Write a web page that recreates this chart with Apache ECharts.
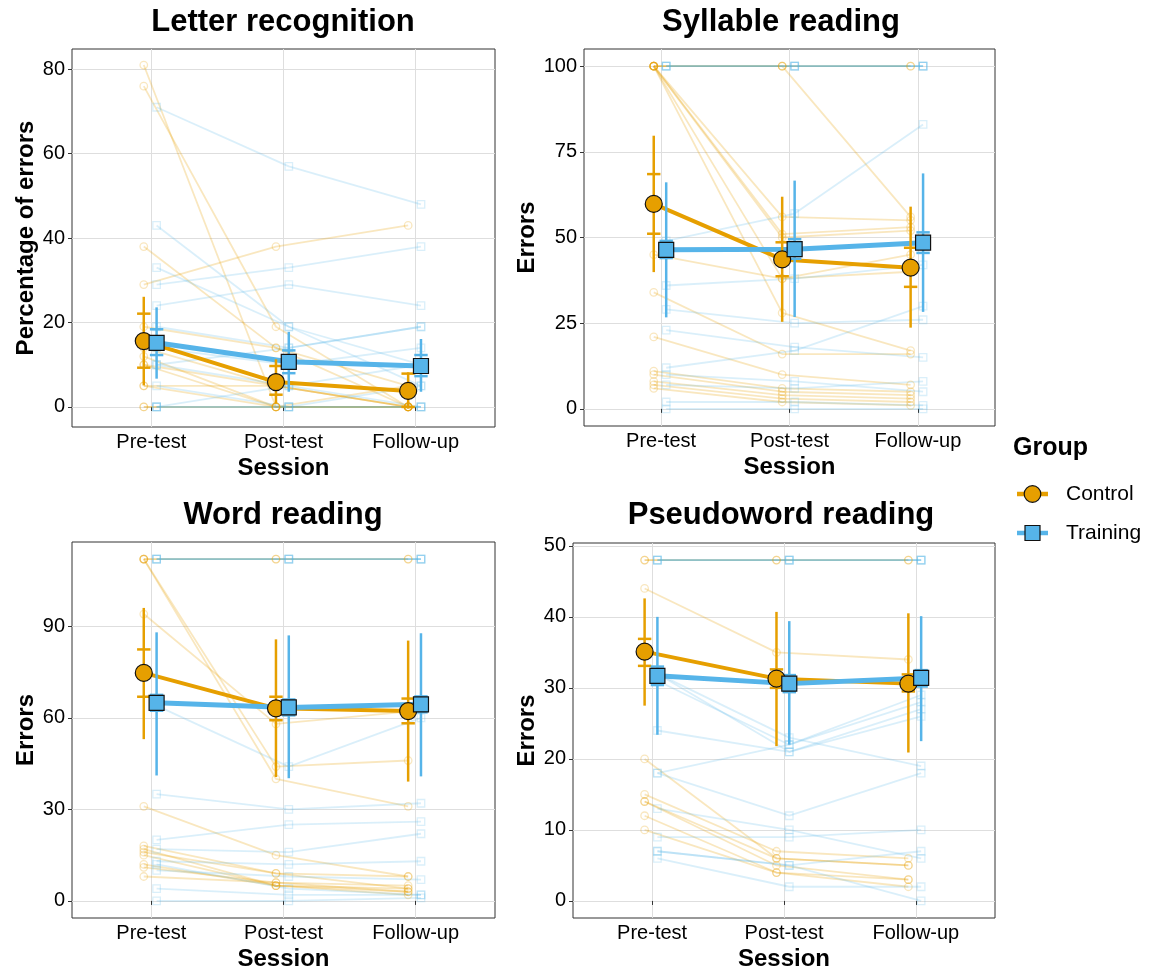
<!DOCTYPE html>
<html><head><meta charset="utf-8">
<script src="https://cdn.jsdelivr.net/npm/echarts@6/dist/echarts.min.js"></script>
<style>html,body{margin:0;padding:0;background:#fff}#c{width:1165px;height:975px}</style>
</head><body><div id="c"></div>
<script>
// ---------- DATA ----------
const sessions = ['Pre-test', 'Post-test', 'Follow-up'];
const panelTitles = ['Letter recognition', 'Syllable reading', 'Word reading', 'Pseudoword reading'];
const yAxisNames = ['Percentage of errors', 'Errors', 'Errors', 'Errors'];
const groups = ['Control', 'Training'];

const letterTicks = [0, 20, 40, 60, 80];
const syllableTicks = [0, 25, 50, 75, 100];
const wordTicks = [0, 30, 60, 90];
const pseudoTicks = [0, 10, 20, 30, 40, 50];

// individual participants: [pre, post, follow-up]
const letterControl = [[81,0,0],[76,19,0],[38,14,5],[29,38,43],[19,14,0],[14,5,0],[12,0,5],[10,5,0],[5,0,0],[0,0,0],[0,0,0],[10,0,0],[5,5,0]];
const letterTraining = [[71,57,48],[43,19,10],[33,19,5],[29,33,38],[24,29,24],[19,14,19],[10,14,19],[10,5,0],[5,0,5],[0,0,0],[0,0,0],[0,0,0],[0,5,10],[14,10,14]];
const syllableControl = [[100,100,100],[100,100,100],[100,100,56],[100,56,55],[100,51,53],[100,50,52],[100,38,45],[100,28,17],[45,38,40],[34,16,16],[21,10,7],[11,6,5],[10,5,4],[8,4,3],[7,3,2],[6,2,1]];
const syllableTraining = [[100,100,100],[100,100,100],[100,100,100],[100,100,100],[49,57,83],[46,47,48],[36,38,42],[29,25,26],[23,18,15],[12,17,30],[10,8,5],[7,6,8],[2,2,1],[0,0,0]];
const wordControl = [[112,112,112],[112,112,112],[112,40,31],[112,44,46],[94,58,62],[31,15,8],[18,9,4],[17,5,3],[16,9,8],[15,5,4],[12,5,2],[11,6,3],[8,6,5]];
const wordTraining = [[112,112,112],[112,112,112],[112,112,112],[112,112,112],[64,44,60],[35,30,32],[20,25,26],[17,16,22],[13,12,13],[10,8,7],[12,4,2],[4,2,2],[0,0,1]];
const pseudoControl = [[48,48,48],[48,48,48],[44,35,34],[20,6,5],[15,7,6],[14,6,5],[14,5,3],[12,4,2],[10,4,3]];
const pseudoTraining = [[48,48,48],[48,48,48],[48,48,48],[48,48,48],[32,23,19],[24,21,26],[18,22,29],[18,12,18],[31,22,28],[32,21,27],[13,10,6],[9,9,10],[7,5,7],[7,5,0],[6,2,2]];

// group means per session
const letterControlMean = [15.6, 5.9, 3.8];
const letterTrainingMean = [15.2, 10.7, 9.7];
const syllableControlMean = [59.8, 43.6, 41.2];
const syllableTrainingMean = [46.4, 46.6, 48.5];
const wordControlMean = [74.7, 63.1, 62.2];
const wordTrainingMean = [64.9, 63.4, 64.4];
const pseudoControlMean = [35.1, 31.3, 30.6];
const pseudoTrainingMean = [31.7, 30.6, 31.4];

// inner interval (capped) [low, high] per session
const letterControlSE = [[9.3,22.1],[2.9,9.7],[0.0,7.9]];
const letterTrainingSE = [[12.3,18.4],[8.0,13.4],[7.3,12.3]];
const syllableControlSE = [[51.1,68.5],[38.7,48.6],[35.6,47.0]];
const syllableTrainingSE = [[44.0,49.0],[43.8,49.5],[45.5,51.5]];
const wordControlSE = [[66.9,82.4],[59.2,66.9],[58.2,66.3]];
const wordTrainingSE = [[62.3,67.5],[60.8,66.0],[61.8,67.0]];
const pseudoControlSE = [[33.1,36.9],[30.0,32.6],[29.5,31.9]];
const pseudoTrainingSE = [[30.4,33.0],[29.4,31.8],[30.2,32.5]];

// outer interval (uncapped) [low, high] per session
const letterControlCI = [[5.1,26.1],[0.8,11.3],[-0.4,8.2]];
const letterTrainingCI = [[6.7,23.6],[3.6,17.8],[3.6,16.1]];
const syllableControlCI = [[39.9,79.7],[25.4,61.9],[23.7,59.0]];
const syllableTrainingCI = [[26.7,66.1],[26.8,66.6],[28.3,68.7]];
const wordControlCI = [[53.0,96.0],[40.6,85.7],[39.1,85.3]];
const wordTrainingCI = [[41.1,88.0],[40.2,87.0],[40.8,87.7]];
const pseudoControlCI = [[27.5,42.6],[21.8,40.7],[20.9,40.5]];
const pseudoTrainingCI = [[23.4,40.0],[22.0,39.4],[22.5,40.1]];

// ---------- LAYOUT ----------
const ORANGE = '#E69F00', BLUE = '#56B4E9';
const FONT = '"Liberation Sans", Arial, sans-serif';
const OFFSET = [-0.057, 0.04];
const gridsPx = [
  {left: 72, top: 49, width: 423, height: 378},
  {left: 584, top: 49, width: 411, height: 377},
  {left: 72, top: 542, width: 423, height: 376},
  {left: 573, top: 543, width: 422, height: 375}
];
const yRange = [[-4.75, 84.8], [-5, 105], [-5.6, 117.6], [-2.4, 50.4]];
const yNameGap = [32, 32, 32, 32];

const panels = [
  {ticks: letterTicks, ind: [letterControl, letterTraining], mean: [letterControlMean, letterTrainingMean], se: [letterControlSE, letterTrainingSE], ci: [letterControlCI, letterTrainingCI]},
  {ticks: syllableTicks, ind: [syllableControl, syllableTraining], mean: [syllableControlMean, syllableTrainingMean], se: [syllableControlSE, syllableTrainingSE], ci: [syllableControlCI, syllableTrainingCI]},
  {ticks: wordTicks, ind: [wordControl, wordTraining], mean: [wordControlMean, wordTrainingMean], se: [wordControlSE, wordTrainingSE], ci: [wordControlCI, wordTrainingCI]},
  {ticks: pseudoTicks, ind: [pseudoControl, pseudoTraining], mean: [pseudoControlMean, pseudoTrainingMean], se: [pseudoControlSE, pseudoTrainingSE], ci: [pseudoControlCI, pseudoTrainingCI]}
];

const colors = [ORANGE, BLUE];
const fadedStroke = ['rgba(230,159,0,0.25)', 'rgba(86,180,233,0.22)'];
const grid = [], xAxis = [], yAxis = [], series = [], graphic = [];

panels.forEach((p, i) => {
  const g = gridsPx[i];
  grid.push(Object.assign({show: true, borderColor: '#333', borderWidth: 1, backgroundColor: '#fff'}, g));
  xAxis.push({
    gridIndex: i, type: 'value', min: 0.4, max: 3.6,
    axisLine: {show: false},
    axisTick: {show: true, customValues: [1, 2, 3], length: 4, lineStyle: {color: '#333'}},
    axisLabel: {customValues: [1, 2, 3], formatter: v => sessions[Math.round(v) - 1], fontSize: 20, color: '#000', fontFamily: FONT, margin: 5},
    splitLine: {show: true, lineStyle: {color: '#dedede', width: 1}},
    name: 'Session', nameLocation: 'middle', nameGap: 29,
    nameTextStyle: {fontSize: 24, fontWeight: 'bold', color: '#000', fontFamily: FONT}
  });
  yAxis.push({
    gridIndex: i, type: 'value', min: yRange[i][0], max: yRange[i][1],
    axisLine: {show: false},
    axisTick: {show: true, customValues: p.ticks, length: 4, lineStyle: {color: '#333'}},
    axisLabel: {customValues: p.ticks, fontSize: 20, color: '#000', fontFamily: FONT, margin: 7},
    splitLine: {show: true, lineStyle: {color: '#dedede', width: 1}},
    name: yAxisNames[i], nameLocation: 'middle', nameGap: yNameGap[i],
    nameTextStyle: {fontSize: 24, fontWeight: 'bold', color: '#000', fontFamily: FONT}
  });

  // individual participants
  [0, 1].forEach(gi => {
    p.ind[gi].forEach((row, r) => {
      series.push({
        type: 'line', name: groups[gi] + ' participant ' + (r + 1), xAxisIndex: i, yAxisIndex: i,
        data: row.map((v, k) => [k + 1 + OFFSET[gi], v]),
        symbol: gi === 0 ? 'circle' : 'rect', symbolSize: 7.5,
        lineStyle: {color: fadedStroke[gi], width: 1.8},
        itemStyle: {color: 'rgba(255,255,255,0)', borderColor: fadedStroke[gi], borderWidth: 1.3},
        z: 1, silent: true, animation: false, emphasis: {disabled: true}
      });
    });
  });
  // mean lines
  [0, 1].forEach(gi => {
    series.push({
      type: 'line', name: groups[gi] + ' mean line', xAxisIndex: i, yAxisIndex: i,
      data: p.mean[gi].map((v, k) => [k + 1 + OFFSET[gi], v]),
      symbol: 'none', lineStyle: {color: colors[gi], width: gi === 0 ? 4 : 5},
      z: 3, silent: true, animation: false
    });
  });
  // error bars
  [0, 1].forEach(gi => {
    series.push({
      type: 'custom', name: groups[gi] + ' error', xAxisIndex: i, yAxisIndex: i,
      data: p.mean[gi].map((v, k) => [k + 1 + OFFSET[gi], p.ci[gi][k][0], p.ci[gi][k][1], p.se[gi][k][0], p.se[gi][k][1]]),
      encode: {x: 0, y: [1, 2, 3, 4]},
      renderItem: (params, api) => {
        const x = api.value(0);
        const lo = api.coord([x, api.value(1)]);
        const hi = api.coord([x, api.value(2)]);
        const sl = api.coord([x, api.value(3)]);
        const sh = api.coord([x, api.value(4)]);
        const hw = 6.7;
        const st = {stroke: colors[gi], lineWidth: 2.5};
        return {type: 'group', children: [
          {type: 'line', shape: {x1: lo[0], y1: lo[1], x2: hi[0], y2: hi[1]}, style: st},
          {type: 'line', shape: {x1: sl[0] - hw, y1: sl[1], x2: sl[0] + hw, y2: sl[1]}, style: st},
          {type: 'line', shape: {x1: sh[0] - hw, y1: sh[1], x2: sh[0] + hw, y2: sh[1]}, style: st}
        ]};
      },
      z: 4, silent: true, animation: false
    });
  });
  // mean markers
  [0, 1].forEach(gi => {
    series.push({
      type: 'scatter', name: groups[gi], xAxisIndex: i, yAxisIndex: i,
      data: p.mean[gi].map((v, k) => [k + 1 + OFFSET[gi], v]),
      symbol: gi === 0 ? 'circle' : 'rect', symbolSize: gi === 0 ? 17 : 15,
      itemStyle: {color: colors[gi], borderColor: '#111', borderWidth: 1.2, opacity: 1},
      z: 5, silent: true, animation: false
    });
  });

  // panel title
  graphic.push({
    type: 'text', z: 10,
    x: i % 2 === 0 ? 283 : 781, y: i < 2 ? 22 : 515,
    style: {text: panelTitles[i], font: 'bold 31px ' + FONT, fill: '#000', textAlign: 'center', textVerticalAlign: 'middle'}
  });
});

// legend
graphic.push({type: 'text', x: 1013, y: 448, style: {text: 'Group', font: 'bold 25px ' + FONT, fill: '#000', textAlign: 'left', textVerticalAlign: 'middle'}});
groups.forEach((gname, gi) => {
  const y = gi === 0 ? 494 : 533;
  graphic.push({type: 'line', shape: {x1: 1017, y1: y, x2: 1048, y2: y}, style: {stroke: colors[gi], lineWidth: 4.5}});
  if (gi === 0) {
    graphic.push({type: 'circle', shape: {cx: 1032.5, cy: y, r: 8.3}, style: {fill: colors[gi], stroke: '#111', lineWidth: 1.2}});
  } else {
    graphic.push({type: 'rect', shape: {x: 1025, y: y - 7.5, width: 15, height: 15}, style: {fill: colors[gi], stroke: '#111', lineWidth: 1.2}});
  }
  graphic.push({type: 'text', x: 1066, y: y, style: {text: gname, font: '21px ' + FONT, fill: '#000', textAlign: 'left', textVerticalAlign: 'middle'}});
});

const chart = echarts.init(document.getElementById('c'), null, {renderer: 'canvas'});
chart.setOption({
  backgroundColor: '#fff',
  animation: false,
  textStyle: {fontFamily: FONT},
  grid, xAxis, yAxis, series, graphic
});
</script></body></html>
